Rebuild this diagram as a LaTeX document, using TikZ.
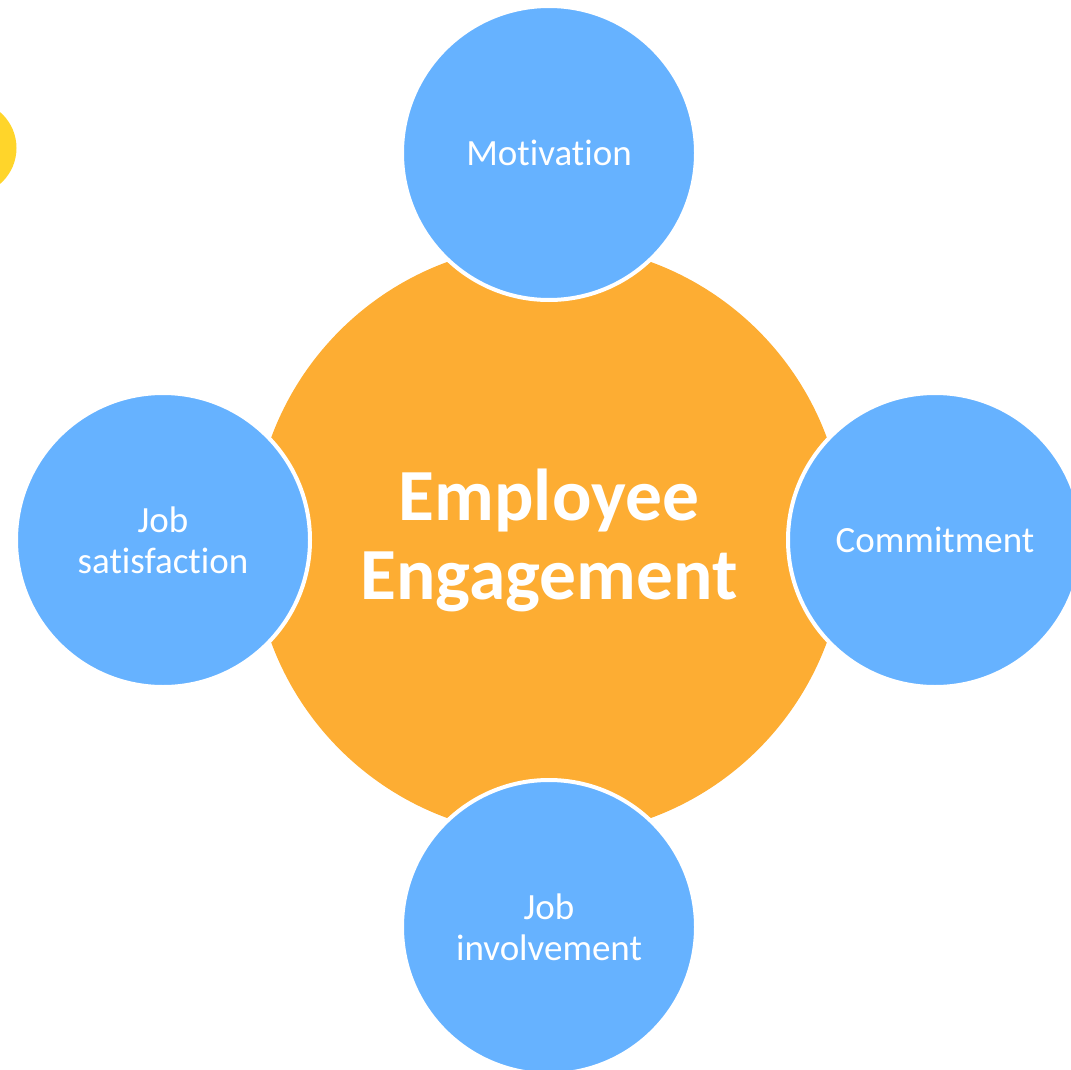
\documentclass[tikz,border=0pt]{standalone}
\usepackage{fontspec}
\setmainfont{Carlito}[Ligatures=NoCommon]
\definecolor{hubfill}{HTML}{FDAD33}
\definecolor{petalfill}{HTML}{66B2FF}
\definecolor{dotfill}{HTML}{FFD52A}
\begin{document}
\begin{tikzpicture}[x=1pt,y=-1pt,
  hub/.style={circle,fill=hubfill,minimum size=592pt,inner sep=0pt,
    text=white,align=center,font=\bfseries\fontsize{73.5}{81}\selectfont},
  petal/.style={circle,fill=petalfill,draw=white,line width=4pt,
    minimum size=294pt,inner sep=0pt,text=white,align=center,
    font=\fontsize{37}{41}\selectfont},
  dot/.style={circle,fill=dotfill,minimum size=95pt,inner sep=0pt}]
  \useasboundingbox (0,0) rectangle (1071,1070);
  \clip (0,0) rectangle (1071,1070);
  % small accent disc at the left edge
  \node[dot] (accent) at (-31,148) {};
  % central hub
  \node[hub] (hub) at (549,540) {Employee\\[-2pt]Engagement};
  % surrounding drivers
  \node[petal] (top) at (549,153) {Motivation};
  \node[petal] (left) at (163,540) {Job\\satisfaction};
  \node[petal] (right) at (935,540) {Commitment};
  \node[petal] (bottom) at (549,927) {Job\\involvement};
\end{tikzpicture}
\end{document}
